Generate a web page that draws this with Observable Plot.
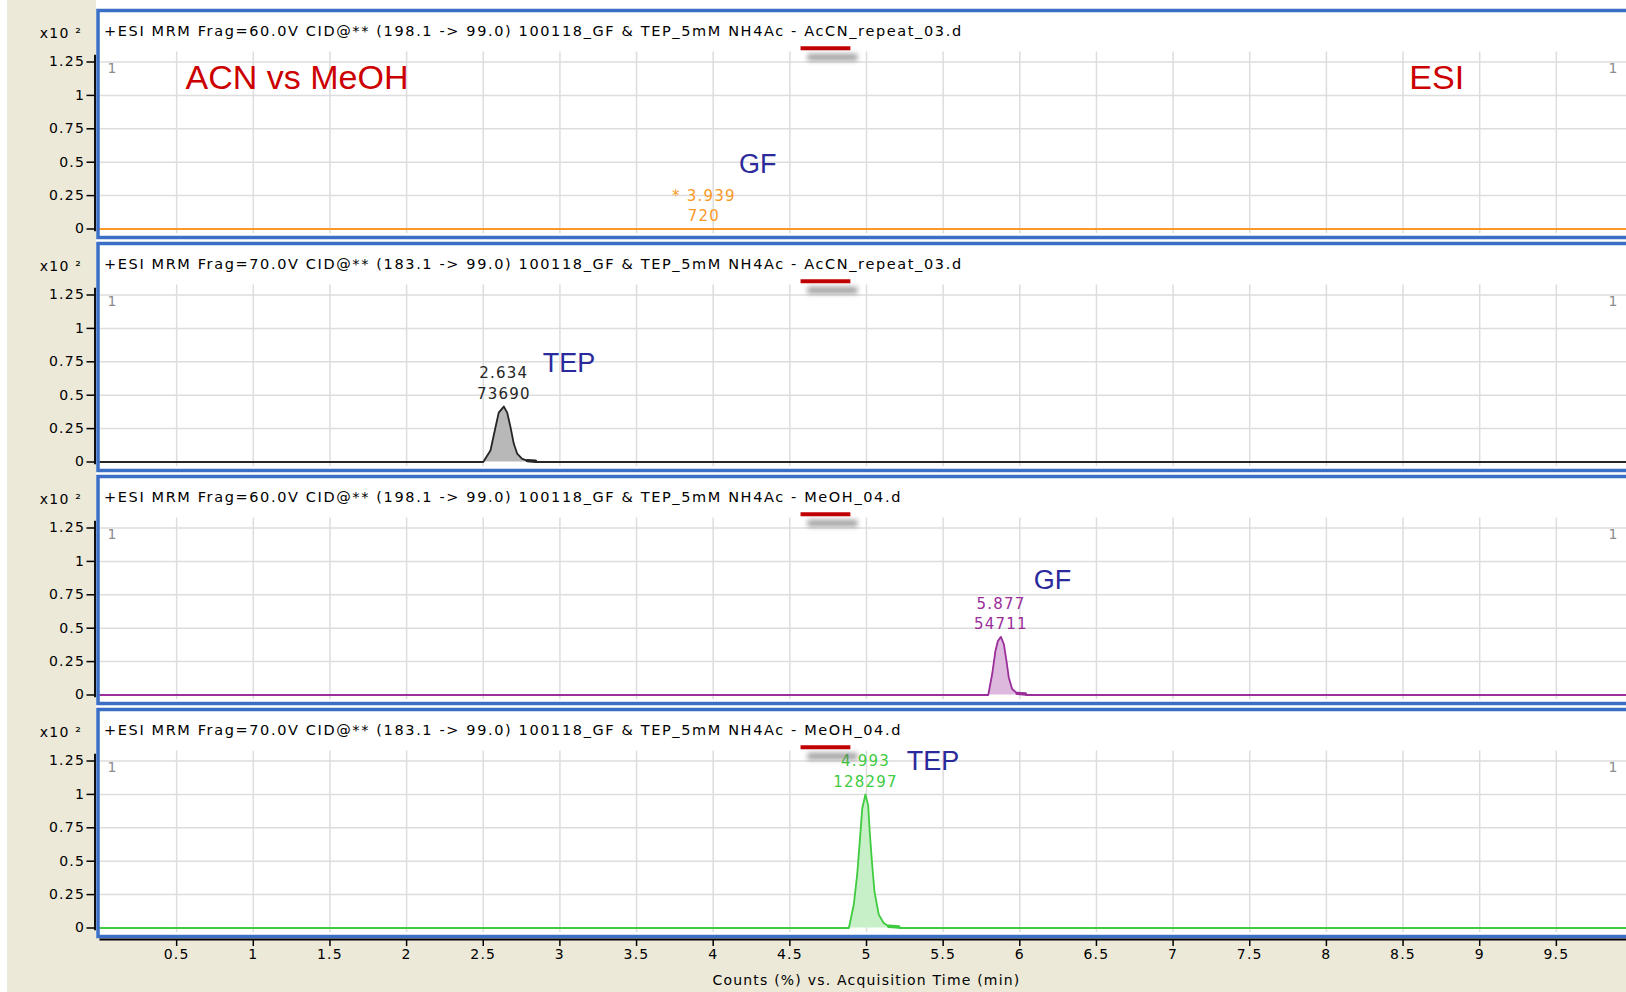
<!DOCTYPE html>
<html>
<head>
<meta charset="utf-8">
<title>ACN vs MeOH – ESI MRM chromatograms</title>
<script src="https://cdn.jsdelivr.net/npm/d3@7"></script>
<script src="https://cdn.jsdelivr.net/npm/@observablehq/plot@0.6"></script>
<style>
  html, body { margin: 0; padding: 0; background: #ECE9D8; }
  #chart { position: relative; width: 1626px; height: 992px; overflow: hidden; background: #ECE9D8; }
  #chart .edge { position: absolute; left: 0; top: 0; width: 7px; height: 992px; background: #fff; }
  #chart .sheet { position: absolute; left: 96px; top: 0; right: 0; height: 937px; background: #fff; }
  #chart svg { position: absolute; left: 0; max-width: none; background: transparent; overflow: visible; }
</style>
</head>
<body>
<div id="chart"><div class="edge"></div><div class="sheet"></div></div>
<script>
// ---- data -------------------------------------------------------------
const headers = [
  "+ESI MRM Frag=60.0V CID@** (198.1 -> 99.0) 100118_GF & TEP_5mM NH4Ac - AcCN_repeat_03.d",
  "+ESI MRM Frag=70.0V CID@** (183.1 -> 99.0) 100118_GF & TEP_5mM NH4Ac - AcCN_repeat_03.d",
  "+ESI MRM Frag=60.0V CID@** (198.1 -> 99.0) 100118_GF & TEP_5mM NH4Ac - MeOH_04.d",
  "+ESI MRM Frag=70.0V CID@** (183.1 -> 99.0) 100118_GF & TEP_5mM NH4Ac - MeOH_04.d"
];
const compound = ["GF", "TEP", "GF", "TEP"];

// integrated peaks: retention time (min), area, apex height (counts, x10^2 %)
const peakRT = [3.939, 2.634, 5.877, 4.993];
const peakArea = [720, 73690, 54711, 128297];
const peakTop = [0, 0.415, 0.435, 1.0];

// trace points before / after the apex
const gfAcnRiseT = [0];
const gfAcnRiseV = [0];
const gfAcnFallT = [10];
const gfAcnFallV = [0];

const tepAcnRiseT = [0, 2.500, 2.547, 2.580, 2.601];
const tepAcnRiseV = [0, 0, 0.086, 0.26, 0.37];
const tepAcnFallT = [2.656, 2.678, 2.699, 2.721, 2.754, 2.787, 2.841, 2.845, 10];
const tepAcnFallV = [0.37, 0.26, 0.138, 0.063, 0.024, 0.01, 0.006, 0, 0];

const gfMeohRiseT = [0, 5.794, 5.820, 5.841, 5.857];
const gfMeohRiseV = [0, 0, 0.157, 0.33, 0.404];
const gfMeohFallT = [5.896, 5.913, 5.928, 5.950, 5.983, 6.037, 6.041, 10];
const gfMeohFallV = [0.38, 0.255, 0.131, 0.045, 0.012, 0.007, 0, 0];

const tepMeohRiseT = [0, 4.885, 4.917, 4.939, 4.956, 4.972];
const tepMeohRiseV = [0, 0, 0.174, 0.397, 0.645, 0.893];
const tepMeohFallT = [5.011, 5.021, 5.037, 5.052, 5.080, 5.112, 5.145, 5.211, 5.215, 10];
const tepMeohFallV = [0.918, 0.72, 0.472, 0.273, 0.1, 0.037, 0.013, 0.007, 0, 0];

// compound tags (time, height)
const tagT = [4.29, 3.06, 6.213, 5.434];
const tagV = [0.483, 0.737, 0.856, 1.246];

const xTicks = [0.5, 1, 1.5, 2, 2.5, 3, 3.5, 4, 4.5, 5, 5.5, 6, 6.5, 7, 7.5, 8, 8.5, 9, 9.5];
const yTicks = [0, 0.25, 0.5, 0.75, 1, 1.25];
const xTitle = "Counts (%) vs. Acquisition Time (min)";

// ---- styling ----------------------------------------------------------
const traceColor = ["#F99A26", "#262626", "#9A2E9A", "#3FCB3F"];
const peakFill = ["#FCD8A8", "#B8B8B8", "#DDBADD", "#C8F0C8"];
const tagColor = "#2A2A9C";
const red = "#CC0000";
const shadowGray = "#666666";

const W = 1640, PANEL_H = 240, STEP = 233;
const X0 = 99.5, PX_PER_MIN = 153.3;
const xScale = {domain: [0, 10], range: [X0, X0 + 10 * PX_PER_MIN]};
const yScale = {domain: [0, 1.25], range: [228.5, 61.5]};
const gridLo = -0.035, gridHi = 1.325;
const underlineV = 1.353, underlineT = [4.573, 4.898];
const plain = d => String(d);

const riseT = [gfAcnRiseT, tepAcnRiseT, gfMeohRiseT, tepMeohRiseT];
const riseV = [gfAcnRiseV, tepAcnRiseV, gfMeohRiseV, tepMeohRiseV];
const fallT = [gfAcnFallT, tepAcnFallT, gfMeohFallT, tepMeohFallT];
const fallV = [gfAcnFallV, tepAcnFallV, gfMeohFallV, tepMeohFallV];

const chart = document.getElementById("chart");

function place(svg, top) {
  svg.style.top = top + "px";
  svg.style.fontFamily = "'DejaVu Sans', sans-serif";
  svg.style.fontSize = "14px";
  svg.style.letterSpacing = "1.2px";
  // large annotation lettering keeps its natural spacing
  svg.querySelectorAll('g[font-family="Liberation Sans"]').forEach(g => g.style.letterSpacing = "0px");
  // run headers are set a little wider
  svg.querySelectorAll("text").forEach(t => {
    if (t.textContent.startsWith("+ESI")) t.style.letterSpacing = "1.62px";
  });
  // soft drop shadow under the solvent underline
  svg.querySelectorAll(`g[stroke="${shadowGray}"]`).forEach(g => g.style.filter = "blur(2.5px)");
  chart.appendChild(svg);
}

function panelPlot(i) {
  const pts = [
    ...riseT[i].map((t, k) => ({t, v: riseV[i][k]})),
    {t: peakRT[i], v: peakTop[i]},
    ...fallT[i].map((t, k) => ({t, v: fallV[i][k]}))
  ];
  const apex = [{t: peakRT[i], v: peakTop[i]}];
  const rtText = (i === 0 ? "* " : "") + peakRT[i].toFixed(3);
  const color = traceColor[i];

  return Plot.plot({
    width: W, height: PANEL_H,
    marginLeft: 97.5, marginRight: 4, marginTop: 10, marginBottom: 3,
    x: {...xScale, axis: null, label: null},
    y: {...yScale, label: null},
    marks: [
      Plot.frame({fill: "white", stroke: "none"}),
      Plot.ruleX(xTicks, {y1: gridLo, y2: gridHi, stroke: "#DDDDDD", strokeWidth: 1.5}),
      Plot.ruleY(yTicks.filter(d => d > 0), {x1: 0, x2: 10, stroke: "#DDDDDD", strokeWidth: 1.5}),
      Plot.areaY(pts, {x: "t", y: "v", fill: peakFill[i]}),
      Plot.lineY(pts, {x: "t", y: "v", stroke: color, strokeWidth: 1.8}),
      i > 0 ? Plot.lineY(pts.slice(-4, -2), {x: "t", y: "v", stroke: color, strokeWidth: 3.4}) : null,
      Plot.text(apex, {x: "t", y: "v", text: () => rtText, dy: -33, fill: color, fontSize: 15}),
      Plot.text(apex, {x: "t", y: "v", text: () => String(peakArea[i]), dy: -12.5, fill: color, fontSize: 15}),
      Plot.text([compound[i]], {x: tagT[i], y: tagV[i], fill: tagColor, fontSize: 27, fontFamily: "Liberation Sans"}),
      i === 0 ? Plot.text(["ACN vs MeOH"], {x: 1.285, y: 1.126, fill: red, fontSize: 34, fontFamily: "Liberation Sans"}) : null,
      i === 0 ? Plot.text(["ESI"], {x: 8.72, y: 1.126, fill: red, fontSize: 34, fontFamily: "Liberation Sans"}) : null,
      Plot.text([headers[i]], {frameAnchor: "top-left", dx: 6, dy: 21, textAnchor: "start", lineAnchor: "middle", fill: "black", fontSize: 14.5}),
      Plot.ruleY([underlineV], {x1: underlineT[0], x2: underlineT[1], dx: 7, dy: 9, stroke: shadowGray, strokeOpacity: 0.6, strokeWidth: 7}),
      Plot.ruleY([underlineV], {x1: underlineT[0], x2: underlineT[1], stroke: "#C00000", strokeWidth: 4}),
      Plot.text(["1"], {frameAnchor: "top-left", dx: 9.5, dy: 53, fill: "#8C8C8C", fontSize: 14}),
      Plot.text(["1"], {frameAnchor: "top-right", dx: -18, dy: 53, fill: "#8C8C8C", fontSize: 14}),
      Plot.frame({stroke: "#3B6FC6", strokeWidth: 3.5}),
      Plot.ruleX([0], {y1: -0.02, y2: 1.3, dx: -5, stroke: "#111", strokeWidth: 2}),
      Plot.axisY(yTicks, {anchor: "left", tickSize: 8, tickPadding: 2, dx: -3, strokeWidth: 1.5, fontSize: 14, tickFormat: plain, label: null}),
      Plot.text(["x10 ²"], {frameAnchor: "top-left", dx: -16, dy: 23, textAnchor: "end", lineAnchor: "middle", fill: "black", fontSize: 14})
    ]
  });
}

for (let i = 0; i < 4; i++) place(panelPlot(i), STEP * i);

// shared time axis under the bottom panel
const axisPlot = Plot.plot({
  width: W, height: 62,
  marginLeft: X0, marginRight: W - (X0 + 10 * PX_PER_MIN), marginTop: 0, marginBottom: 53,
  x: {...xScale, label: null},
  y: {domain: [0, 1], axis: null},
  marks: [
    Plot.ruleY([0], {x1: 0, x2: 10, stroke: "black", strokeWidth: 2}),
    Plot.axisX(xTicks, {anchor: "bottom", tickSize: 7, tickPadding: 3, strokeWidth: 1.5, fontSize: 14, tickFormat: plain, label: null}),
    Plot.text([xTitle], {frameAnchor: "bottom", dy: 41, lineAnchor: "middle", fill: "black", fontSize: 14})
  ]
});
place(axisPlot, 930);
</script>
</body>
</html>
